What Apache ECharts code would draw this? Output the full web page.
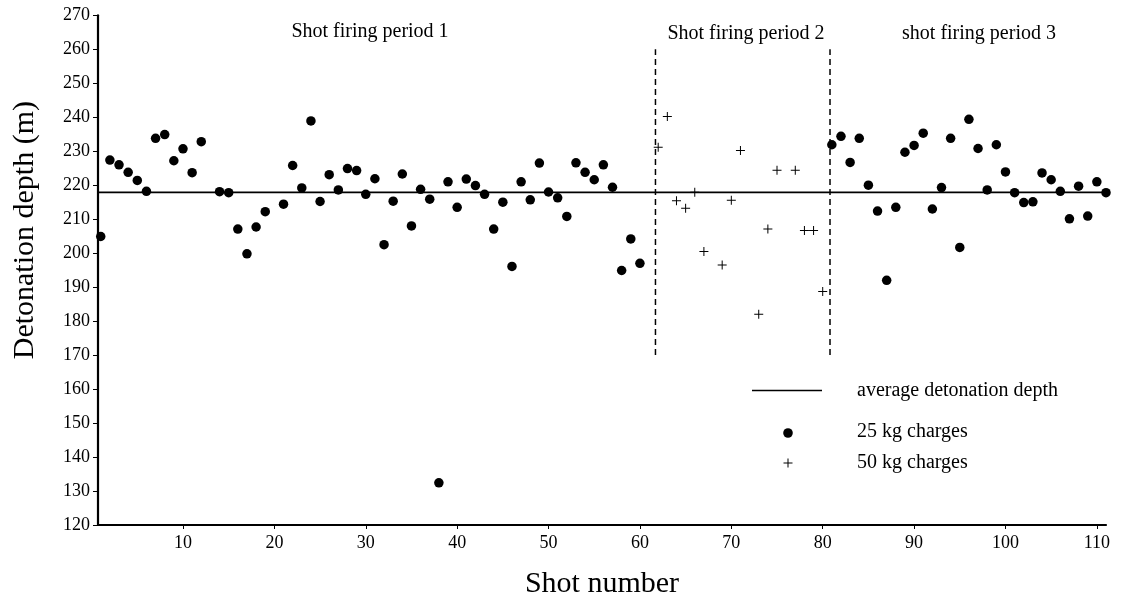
<!DOCTYPE html>
<html>
<head>
<meta charset="utf-8">
<script src="https://cdn.jsdelivr.net/npm/echarts@6/dist/echarts.min.js"></script>
<style>
  html, body { margin: 0; padding: 0; background: #fff; }
  #chart { width: 1123px; height: 604px; }
</style>
</head>
<body>
<div id="chart"></div>
<script>
// ---- data ----
const shots25 = [1,2,3,4,5,6,7,8,9,10,11,12,14,15,16,17,18,19,21,22,23,24,25,26,27,28,29,
  30,31,32,33,34,35,36,37,38,39,40,41,42,43,44,45,46,47,48,49,50,51,52,53,54,55,56,57,58,59,60,
  81,82,83,84,85,86,87,88,89,90,91,92,93,94,95,96,97,98,99,100,101,102,103,104,105,106,107,108,109,110,111];
const depth25 = [204.9,227.4,226.0,223.8,221.4,218.2,233.8,234.9,227.2,230.7,223.7,232.8,218.1,217.8,207.1,199.8,207.7,212.2,214.4,225.8,219.2,238.9,215.2,223.1,218.6,224.9,224.3,
  217.3,221.9,202.5,215.3,223.3,208.0,218.8,215.9,132.4,221.0,213.5,221.8,219.9,217.3,207.1,215.0,196.1,221.0,215.7,226.5,218.0,216.3,210.8,226.6,223.8,221.6,226.0,219.4,194.9,204.2,197.0,
  231.9,234.4,226.7,233.8,220.0,212.4,192.0,213.5,229.7,231.7,235.3,213.0,219.3,233.8,201.7,239.4,230.8,218.6,231.9,223.9,217.8,214.9,215.1,223.6,221.6,218.2,210.1,219.7,210.9,221.0,217.8];
const shots50 = [62,63,64,65,66,67,69,70,71,73,74,75,77,78,79,80];
const depth50 = [231.2,240.2,215.4,213.2,217.9,200.5,196.5,215.6,230.2,182.0,207.1,224.4,224.4,206.7,206.7,188.7];
const avgDepth = 217.9;
const periodBounds = [61.7, 80.8];
const boundSpan = [170, 260];
const xTickValues = [10,20,30,40,50,60,70,80,90,100,110];
const periodTitles = ['Shot firing period 1', 'Shot firing period 2', 'shot firing period 3'];
const legendLabels = ['average detonation depth', '25 kg charges', '50 kg charges'];
const xMin = 0.7, xMax = 111;
const yMin = 120, yMax = 270, yStep = 10;

const FONT = '"Liberation Serif", "Times New Roman", serif';
const PLUS = 'path://M4,0h1v9h-1z M0,4h9v1h-9z';
const chart = echarts.init(document.getElementById('chart'), null, { renderer: 'canvas' });

const series = [
  {
    name: legendLabels[1], type: 'scatter', symbol: 'circle', symbolSize: 9.5, clip: false,
    itemStyle: { color: '#000', opacity: 1 },
    data: shots25.map((s, i) => [s, depth25[i]])
  },
  {
    name: legendLabels[2], type: 'scatter',
    symbol: PLUS, symbolSize: 9, symbolKeepAspect: true,
    itemStyle: { color: '#000', opacity: 1 },
    data: shots50.map((s, i) => [s, depth50[i]])
  },
  {
    name: legendLabels[0], type: 'line', symbol: 'none', silent: true,
    lineStyle: { color: '#000', width: 1.6 },
    data: [[xMin, avgDepth], [xMax, avgDepth]]
  }
];
periodBounds.forEach((b) => {
  series.push({
    name: 'bound', type: 'line', symbol: 'none', silent: true,
    lineStyle: { color: '#000', width: 1.5, type: [6, 4] },
    data: [[b, boundSpan[0]], [b, boundSpan[1]]]
  });
});

const titleX = [370, 746, 979];
const titleY = [32, 34, 34];

function txt(t, x, y, size, align) {
  return {
    type: 'text', x: x, y: y, silent: true,
    style: {
      text: t, font: size + 'px ' + FONT, fill: '#000',
      align: align, verticalAlign: 'middle',
      textAlign: align, textVerticalAlign: 'middle'
    }
  };
}

const graphics = periodTitles.map((t, i) => txt(t, titleX[i], titleY[i], 20, 'center'));
// legend key (drawn as annotation)
graphics.push({ type: 'line', silent: true, shape: { x1: 752, y1: 390.5, x2: 822, y2: 390.5 }, style: { stroke: '#000', lineWidth: 1.6 } });
graphics.push({ type: 'circle', silent: true, shape: { cx: 788, cy: 433, r: 4.8 }, style: { fill: '#000' } });
graphics.push({ type: 'rect', silent: true, shape: { x: 783.5, y: 462.5, width: 9, height: 1 }, style: { fill: '#000' } });
graphics.push({ type: 'rect', silent: true, shape: { x: 787.5, y: 458.5, width: 1, height: 9 }, style: { fill: '#000' } });
graphics.push(txt(legendLabels[0], 857, 391, 20, 'left'));
graphics.push(txt(legendLabels[1], 857, 432, 20, 'left'));
graphics.push(txt(legendLabels[2], 857, 463, 20, 'left'));

chart.setOption({
  animation: false,
  backgroundColor: '#fff',
  textStyle: { fontFamily: FONT, color: '#000' },
  grid: { left: 98, right: 17, top: 15.3, bottom: 74.7, containLabel: false },
  xAxis: {
    type: 'value', min: xMin, max: xMax,
    name: 'Shot number', nameLocation: 'middle', nameGap: 44,
    nameTextStyle: { fontFamily: FONT, fontSize: 30, color: '#000' },
    axisLine: { show: true, lineStyle: { color: '#000', width: 2.2 } },
    axisTick: { show: true, length: 4, customValues: xTickValues, lineStyle: { color: '#000', width: 1 } },
    axisLabel: { customValues: xTickValues, fontFamily: FONT, fontSize: 18, color: '#000', margin: 9 },
    splitLine: { show: false }
  },
  yAxis: {
    type: 'value', min: yMin, max: yMax, interval: yStep,
    name: 'Detonation depth (m)', nameLocation: 'middle', nameGap: 58, nameRotate: 90,
    nameTextStyle: { fontFamily: FONT, fontSize: 30, color: '#000', padding: [0, 0, 0, 80] },
    axisLine: { show: true, lineStyle: { color: '#000', width: 2.2 } },
    axisTick: { show: true, length: 5, lineStyle: { color: '#000', width: 1 } },
    axisLabel: { fontFamily: FONT, fontSize: 18, color: '#000', margin: 8 },
    splitLine: { show: false }
  },
  graphic: graphics,
  series: series
});
</script>
</body>
</html>
